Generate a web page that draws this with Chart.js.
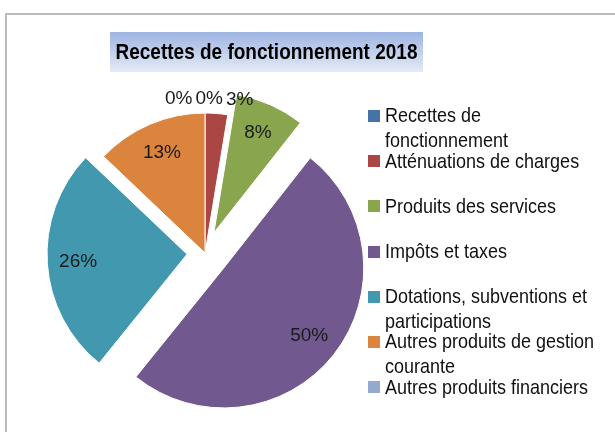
<!DOCTYPE html>
<html>
<head>
<meta charset="utf-8">
<script src="https://cdn.jsdelivr.net/npm/chart.js@4.4.1/dist/chart.umd.min.js"></script>
<style>
  html, body { margin: 0; padding: 0; background: #fff; }
  #wrap { position: relative; width: 615px; height: 432px; overflow: hidden; font-family: "Liberation Sans", Arial, sans-serif; }
  #frame { position: absolute; left: 5px; top: 13px; width: 700px; height: 500px; border-left: 2px solid #bcbcbc; border-top: 2px solid #bcbcbc; }
  #title { position: absolute; left: 110px; top: 32px; width: 313px; height: 40px; text-align: center; color: #000; background: linear-gradient(#9db4e2, #e5ebf6); }
  #title span { display: inline-block; line-height: 40px; font-weight: bold; font-size: 19px; transform: scaleY(1.12); }
  #chart { position: absolute; left: 0; top: 0; width: 615px; height: 432px; }
  #legend { position: absolute; left: 0; top: 0; }
  .item { position: absolute; left: 368px; }
  .swatch { position: absolute; left: 0; top: -6px; width: 12px; height: 12px; }
  .label { position: absolute; left: 17px; top: -11.6px; width: 216px; font-size: 18px; line-height: 23.2px; color: #111; transform: scaleY(1.12); transform-origin: 0 11.6px; }
</style>
</head>
<body>
<div id="wrap">
  <div id="frame"></div>
  <canvas id="chart" width="615" height="432"></canvas>
  <div id="title"><span></span></div>
  <div id="legend"></div>
</div>
<script>
const chartTitle = "Recettes de fonctionnement 2018";
const categories = [
  "Recettes de fonctionnement",
  "Atténuations de charges",
  "Produits des services",
  "Impôts et taxes",
  "Dotations, subventions et participations",
  "Autres produits de gestion courante",
  "Autres produits financiers",
];
// share of the total, in percent
const values = [0, 2.6, 8.0, 50.2, 26.3, 12.9, 0];

const colors = ["#4572A7", "#AA4643", "#89A54E", "#71588F", "#4198AF", "#DB843D", "#93A9CF"];
const explode = [0, 0, 22, 24, 18, 0, 0];

document.querySelector("#title span").textContent = chartTitle;

// legend, one row every 45px
const legend = document.getElementById("legend");
categories.forEach((name, i) => {
  const item = document.createElement("div");
  item.className = "item";
  item.style.top = (116 + i * 45.2) + "px";
  item.innerHTML = '<div class="swatch"></div><div class="label"></div>';
  item.querySelector(".swatch").style.background = colors[i];
  item.querySelector(".label").textContent = name;
  legend.appendChild(item);
});

// draw each slice pulled out along its middle
const explodePlugin = {
  id: "explode",
  beforeDatasetDraw(chart, args) {
    const ctx = chart.ctx;
    args.meta.data.forEach((arc, i) => {
      const mid = (arc.startAngle + arc.endAngle) / 2;
      ctx.save();
      ctx.translate(Math.cos(mid) * explode[i], Math.sin(mid) * explode[i]);
      arc.draw(ctx);
      ctx.restore();
    });
    return false;
  },
};

const pctLabels = {
  id: "pctLabels",
  afterDatasetsDraw(chart) {
    const ctx = chart.ctx;
    const arcs = chart.getDatasetMeta(0).data;
    const total = values.reduce((a, b) => a + b, 0);
    ctx.save();
    ctx.font = '19px "Liberation Sans", Arial, sans-serif';
    ctx.fillStyle = "#1a1a1a";
    ctx.textAlign = "center";
    ctx.textBaseline = "middle";
    const outside = [];
    arcs.forEach((arc, i) => {
      const share = values[i] / total;
      const text = Math.round(share * 100) + "%";
      const mid = (arc.startAngle + arc.endAngle) / 2;
      if (share >= 0.05) {
        const r = arc.outerRadius * 0.78 + explode[i];
        ctx.fillText(text, arc.x + Math.cos(mid) * r, arc.y + Math.sin(mid) * r);
      } else {
        const r = arc.outerRadius + 14;
        let a = mid + Math.PI / 2;
        if (a >= Math.PI) a -= 2 * Math.PI;
        a = Math.round(a * 1000) / 1000;
        outside.push({ text, a, i, x: arc.x + Math.cos(mid) * r, y: arc.y + Math.sin(mid) * r, w: ctx.measureText(text).width });
      }
    });
    // small slices: line their labels up side by side above the pie
    outside.sort((p, q) => p.a - q.a || q.i - p.i);
    const gap = 3;
    const totalW = outside.reduce((s, p) => s + p.w, 0) + gap * (outside.length - 1);
    const cx = outside.reduce((s, p) => s + p.x, 0) / outside.length;
    let x = cx - totalW / 2;
    outside.forEach((p) => {
      ctx.fillText(p.text, x + p.w / 2, p.y);
      x += p.w + gap;
    });
    ctx.restore();
  },
};

new Chart(document.getElementById("chart").getContext("2d"), {
  type: "pie",
  data: {
    labels: categories,
    datasets: [
      {
        data: values,
        backgroundColor: colors,
        borderColor: "#ffffff",
        borderWidth: 1,
      },
    ],
  },
  options: {
    responsive: false,
    animation: false,
    radius: 140,
    layout: { padding: { left: 0, right: 205, top: 74, bottom: 0 } },
    plugins: {
      legend: { display: false },
      title: { display: false },
      tooltip: { enabled: false },
    },
    events: [],
  },
  plugins: [explodePlugin, pctLabels],
});
</script>
</body>
</html>
